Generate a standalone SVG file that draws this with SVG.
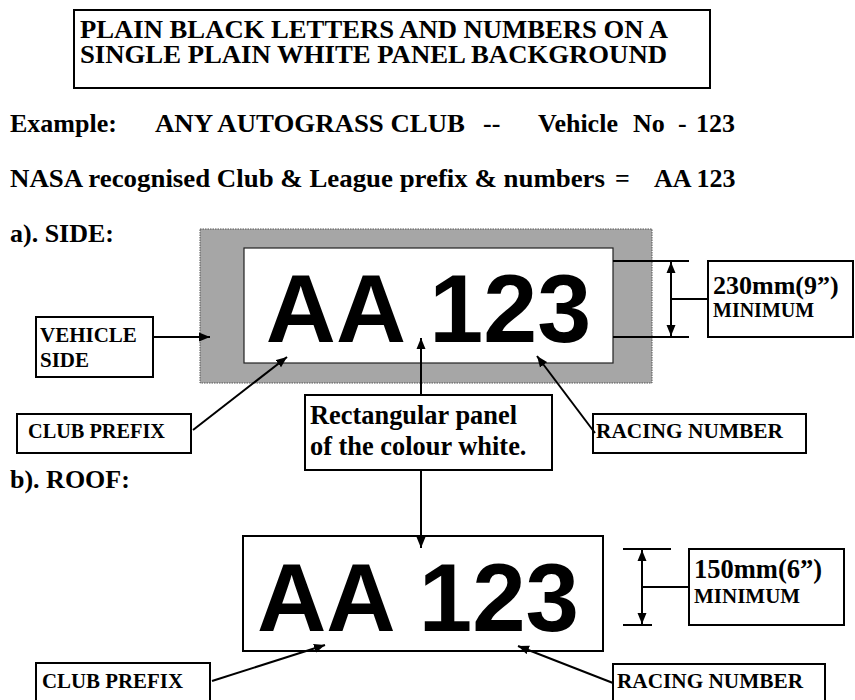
<svg xmlns="http://www.w3.org/2000/svg" width="855" height="700" viewBox="0 0 855 700">
<style>
.t{font-family:"Liberation Serif","Times New Roman",serif;font-weight:bold;fill:#000}
.plate{font-family:"Liberation Sans",Arial,sans-serif;font-weight:bold;fill:#000}
.box{fill:#fff;stroke:#000;stroke-width:2}
.ln{stroke:#000;stroke-width:2;fill:none}
.arr{stroke:#000;stroke-width:2;fill:none;marker-end:url(#ah)}
.dbl{stroke:#000;stroke-width:2;fill:none;marker-end:url(#ah);marker-start:url(#ah)}
</style>
<defs>
<marker id="ah" markerUnits="userSpaceOnUse" markerWidth="12" markerHeight="10" refX="11" refY="5" orient="auto-start-reverse">
<path d="M0,0.5 L11,5 L0,9.5 z" fill="#000"/>
</marker>
</defs>
<rect width="855" height="700" fill="#fff"/>

<g id="title">
<rect class="box" x="74" y="10" width="636" height="78"/>
<text class="t" x="80" y="38" font-size="25" textLength="588" lengthAdjust="spacingAndGlyphs">PLAIN BLACK LETTERS AND NUMBERS ON A</text>
<text class="t" x="80" y="63" font-size="25" textLength="587" lengthAdjust="spacingAndGlyphs">SINGLE PLAIN WHITE PANEL BACKGROUND</text>
</g>

<g id="example">
<text class="t" x="10" y="132" font-size="26">Example:</text>
<text class="t" x="155" y="132" font-size="26" textLength="310" lengthAdjust="spacingAndGlyphs">ANY AUTOGRASS CLUB</text>
<text class="t" x="483" y="132" font-size="26">--</text>
<text class="t" x="538" y="132" font-size="26">Vehicle</text>
<text class="t" x="633" y="132" font-size="26">No</text>
<text class="t" x="678" y="132" font-size="26">-</text>
<text class="t" x="696" y="132" font-size="26">123</text>
</g>

<g id="nasa">
<text class="t" x="10" y="187" font-size="26" textLength="595" lengthAdjust="spacingAndGlyphs">NASA recognised Club &amp; League prefix &amp; numbers</text>
<text class="t" x="615" y="187" font-size="26">=</text>
<text class="t" x="654" y="187" font-size="26">AA 123</text>
</g>

<g id="side-heading"><text class="t" x="10" y="242" font-size="26">a). SIDE:</text></g>
<g id="roof-heading"><text class="t" x="10" y="488" font-size="26">b). ROOF:</text></g>

<g id="vehicle-side">
<rect x="200" y="229" width="452" height="154" fill="#a6a6a6" stroke="#555" stroke-width="1" stroke-dasharray="1.5,1"/>
</g>

<g id="side-panel">
<rect x="244" y="248" width="369" height="115" fill="#fff" stroke="#222" stroke-width="1.2"/>
<text class="plate" x="428.5" y="342" font-size="97" text-anchor="middle">AA 123</text>
</g>

<g id="side-dim-lines">
<line class="ln" x1="613" y1="261" x2="689" y2="261"/>
<line class="ln" x1="613" y1="337" x2="689" y2="337"/>
</g>

<g id="side-dim-label">
<rect class="box" x="708" y="261" width="145" height="76"/>
<text class="t" x="713" y="294" font-size="26">230mm(9”)</text>
<text class="t" x="713" y="317" font-size="20">MINIMUM</text>
</g>

<g id="vehicle-side-label">
<rect class="box" x="36" y="317" width="117" height="60"/>
<text class="t" x="40" y="342" font-size="21">VEHICLE</text>
<text class="t" x="40" y="367" font-size="21">SIDE</text>
</g>

<g id="side-club-prefix">
<rect class="box" x="17" y="414" width="174" height="39"/>
<text class="t" x="28" y="438" font-size="20.5" textLength="137" lengthAdjust="spacingAndGlyphs">CLUB PREFIX</text>
</g>

<g id="panel-label">
<rect class="box" x="305" y="395" width="247" height="75"/>
<text class="t" x="310" y="424" font-size="26.4">Rectangular panel</text>
<text class="t" x="310" y="455" font-size="26.4">of the colour white.</text>
</g>

<g id="side-racing-number">
<rect class="box" x="593" y="414" width="213" height="39"/>
<text class="t" x="596" y="438" font-size="20.8" textLength="187" lengthAdjust="spacingAndGlyphs">RACING NUMBER</text>
</g>

<g id="roof-panel">
<rect class="box" x="243" y="536" width="360" height="115"/>
<text class="plate" x="418" y="631" font-size="96" text-anchor="middle">AA 123</text>
</g>

<g id="roof-dim-lines">
<line class="ln" x1="623" y1="549" x2="671" y2="549"/>
<line class="ln" x1="623" y1="625" x2="652" y2="625"/>
</g>

<g id="roof-dim-label">
<rect class="box" x="689" y="549" width="155" height="76"/>
<text class="t" x="694" y="578" font-size="26.5">150mm(6”)</text>
<text class="t" x="694" y="603" font-size="21">MINIMUM</text>
</g>

<g id="roof-club-prefix">
<rect class="box" x="36" y="663" width="174" height="45"/>
<text class="t" x="42" y="688" font-size="20.8" textLength="141" lengthAdjust="spacingAndGlyphs">CLUB PREFIX</text>
</g>

<g id="roof-racing-number">
<rect class="box" x="613" y="664" width="212" height="45"/>
<text class="t" x="617" y="688" font-size="20.8" textLength="186" lengthAdjust="spacingAndGlyphs">RACING NUMBER</text>
</g>

<g id="connectors">
<line class="arr" x1="153" y1="337" x2="210" y2="337"/>
<line class="arr" x1="193" y1="430" x2="287" y2="357"/>
<line class="arr" x1="595" y1="433" x2="537" y2="356"/>
<line class="arr" x1="421" y1="395" x2="421" y2="338"/>
<line class="arr" x1="421" y1="470" x2="421" y2="548"/>
<line class="dbl" x1="671" y1="262" x2="671" y2="336"/>
<line class="ln" x1="671" y1="299" x2="708" y2="299"/>
<line class="dbl" x1="642" y1="550" x2="642" y2="624"/>
<line class="ln" x1="642" y1="587" x2="689" y2="587"/>
<line class="arr" x1="212" y1="681" x2="325" y2="645"/>
<line class="arr" x1="613" y1="683" x2="518" y2="646"/>
</g>
</svg>
